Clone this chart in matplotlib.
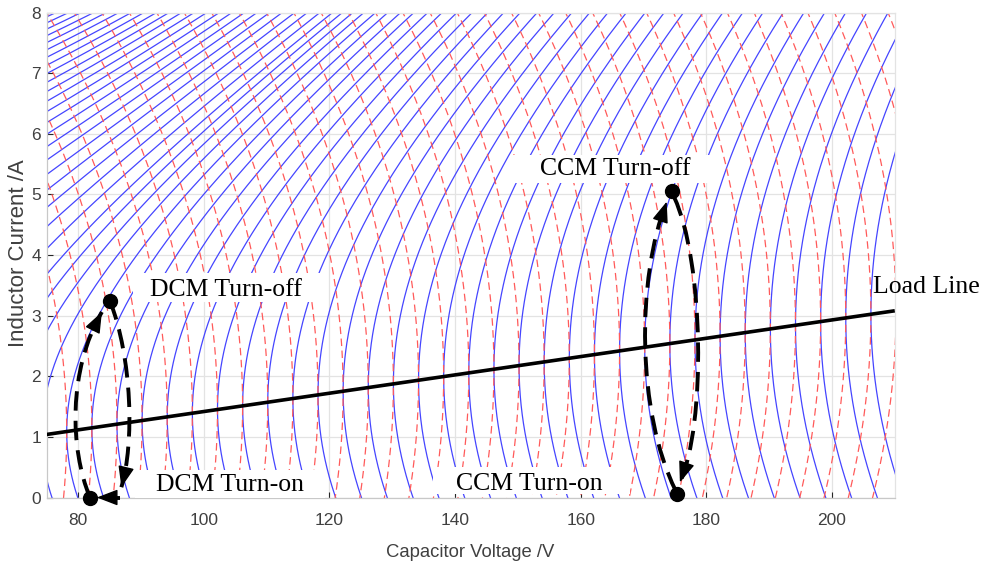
import numpy as np
import matplotlib
matplotlib.use("Agg")
import matplotlib.pyplot as plt
from matplotlib.path import Path
from matplotlib.patches import PathPatch, Rectangle

# ---- axes -------------------------------------------------------------
V_LIM = (75, 210)
I_LIM = (0, 8)
V_TICKS = [80, 100, 120, 140, 160, 180, 200]
I_TICKS = [0, 1, 2, 3, 4, 5, 6, 7, 8]

# ---- load line (end points) -----------------------------------------
LOAD_V = [75.0, 210.0]
LOAD_I = [1.04, 3.08]

# ---- state-plane model ------------------------------------------------
# both states share  C dv/dt = i - i_load(v)
# switch on : L di/dt =  (v - ON_CENTER_V)   -> slope dv/di =  ON_GAIN (i - i_load) / (v - ON_CENTER_V)
# switch off: L di/dt = -(v - OFF_CENTER_V)  -> slope dv/di = -OFF_GAIN (i - i_load) / (v - OFF_CENTER_V)
ON_CENTER_V = 0.0
ON_GAIN = 230.0
OFF_CENTER_V = -2000.0
OFF_GAIN = 1750.0

# trajectories touch the load line every 4 V
BLUE_SEED_FIRST = 62.2
RED_SEED_FIRST = 78.2
SEED_LAST = 230.0
SEED_STEP = 4.0
# on-state trajectories leaving through the top edge left of the first one above (every 2 V)
TOP_SEED_STEP = 2.0

# ---- operating points & hand-drawn loops -------------------------------
DCM_ON = (81.9, 0.0)
DCM_OFF = (85.1, 3.24)
CCM_ON = (175.3, 0.06)
CCM_OFF = (174.6, 5.05)

DCM_RISE = [(81.9, 0.0), (78.7, 0.8), (78.4, 2.1), (83.8, 3.06)]
DCM_FALL = [(85.1, 3.24), (88.6, 2.3), (89.0, 0.9), (86.9, 0.17)]
DCM_RESET = [(86.7, 0.0), (83.0, 0.0)]
CCM_RISE = [(175.1, 0.12), (169.0, 1.4), (168.8, 3.6), (173.7, 4.88)]
CCM_FALL = [(174.9, 4.95), (179.6, 3.9), (180.0, 1.2), (175.8, 0.25)]

LABELS = [  # text, v, i, box (v0, v1, i0, i1)
    ("DCM Turn-off", 103.6, 3.43, (88.75, 119.0, 3.22, 3.70)),
    ("DCM Turn-on", 104.2, 0.20, (89.07, 119.3, 0.0, 0.453)),
    ("CCM Turn-off", 165.5, 5.42, (149.2, 181.35, 5.19, 5.65)),
    ("CCM Turn-on", 151.8, 0.23, (136.5, 167.85, 0.058, 0.503)),
]
LOAD_LABEL = ("Load Line", 206.5, 3.48)

A_TO_V = 9.65  # on-screen length of 1 A expressed in V, keeps the RK steps even


def load_current(v):
    slope = (LOAD_I[1] - LOAD_I[0]) / (LOAD_V[1] - LOAD_V[0])
    return LOAD_I[0] + slope * (v - LOAD_V[0])


def field(v, i, center, gain, sign):
    dv = i - load_current(v)
    di = sign * (v - center) / gain
    norm = np.maximum(np.sqrt(dv ** 2 + (A_TO_V * di) ** 2), 1e-12)
    return dv / norm, di / norm


def trace(v0, i0, center, gain, sign, h=0.25, steps=1100, box=(60.0, 225.0, -1.0, 9.0)):
    halves = []
    with np.errstate(invalid="ignore"):
        for d in (1.0, -1.0):
            v = np.array(v0, float)
            i = np.array(i0, float)
            vs, cs = [v], [i]
            for _ in range(steps):
                a_v, a_i = field(v, i, center, gain, sign)
                b_v, b_i = field(v + 0.5 * d * h * a_v, i + 0.5 * d * h * a_i, center, gain, sign)
                c_v, c_i = field(v + 0.5 * d * h * b_v, i + 0.5 * d * h * b_i, center, gain, sign)
                e_v, e_i = field(v + d * h * c_v, i + d * h * c_i, center, gain, sign)
                v = v + d * h * (a_v + 2 * b_v + 2 * c_v + e_v) / 6
                i = i + d * h * (a_i + 2 * b_i + 2 * c_i + e_i) / 6
                out = (v < box[0]) | (v > box[1]) | (i < box[2]) | (i > box[3])
                v = np.where(out, np.nan, v)
                i = np.where(out, np.nan, i)
                vs.append(v)
                cs.append(i)
            halves.append((np.array(vs), np.array(cs)))
    (fv, fi), (bv, bi) = halves
    return np.vstack([bv[::-1], fv[1:]]), np.vstack([bi[::-1], fi[1:]])


def top_crossing(vcol, icol, level):
    ok = ~np.isnan(vcol)
    vcol, icol = vcol[ok], icol[ok]
    k = np.where((icol[:-1] - level) * (icol[1:] - level) <= 0)[0]
    j = k[-1]
    t = (level - icol[j]) / (icol[j + 1] - icol[j])
    return vcol[j] + t * (vcol[j + 1] - vcol[j])


def bezier_point(pts, t):
    p = np.asarray(pts, float)
    return ((1 - t) ** 3) * p[0] + 3 * (1 - t) ** 2 * t * p[1] + 3 * (1 - t) * t ** 2 * p[2] + t ** 3 * p[3]


# ---- trajectories -----------------------------------------------------
load_seed_v = np.arange(BLUE_SEED_FIRST, SEED_LAST, SEED_STEP)
LV, LI = trace(load_seed_v, load_current(load_seed_v), ON_CENTER_V, ON_GAIN, +1.0)

# fill the upper-left corner: trajectories crossing the top edge every 2 V
v_top_first = top_crossing(LV[:, 0], LI[:, 0], I_LIM[1])
top_seed_v = np.arange(v_top_first - TOP_SEED_STEP, V_LIM[0], -TOP_SEED_STEP)
TV, TI = trace(top_seed_v, np.full(len(top_seed_v), float(I_LIM[1])), ON_CENTER_V, ON_GAIN, +1.0)

red_seed_v = np.arange(RED_SEED_FIRST, SEED_LAST, SEED_STEP)
RV, RI = trace(red_seed_v, load_current(red_seed_v), OFF_CENTER_V, OFF_GAIN, -1.0)

# ---- figure -----------------------------------------------------------
plt.rcParams["font.family"] = ["Liberation Sans", "DejaVu Sans"]
fig = plt.figure(figsize=(9.92, 5.71), dpi=100)
ax = fig.add_axes([0.04698, 0.1287, 0.8550, 0.8494])

blue = "#4545ff"
ax.plot(LV, LI, color=blue, lw=0.9, zorder=2)
ax.plot(TV, TI, color=blue, lw=0.9, zorder=2)
ax.plot(RV, RI, color="#ff5a5a", lw=0.9, linestyle=(0, (6.0, 3.6)), zorder=2)

ax.plot(LOAD_V, LOAD_I, color="black", lw=2.6, zorder=3, solid_capstyle="butt")

serif = ["Liberation Serif", "DejaVu Serif"]
for text, tv, ti, (b0, b1, c0, c1) in LABELS:
    ax.add_patch(Rectangle((b0, c0), b1 - b0, c1 - c0, facecolor="white",
                           edgecolor="none", zorder=4))
    ax.text(tv, ti, text, family=serif, fontsize=18.5,
            ha="center", va="center", color="black", zorder=7)
ax.text(LOAD_LABEL[1], LOAD_LABEL[2], LOAD_LABEL[0], family=serif,
        fontsize=18.5, ha="left", va="center", color="black", zorder=7, clip_on=False)

# dashed switching loops
codes = [Path.MOVETO, Path.CURVE4, Path.CURVE4, Path.CURVE4]
head = dict(arrowstyle="-|>,head_length=1.3,head_width=0.5", mutation_scale=10,
            color="black", lw=1.0, shrinkA=0, shrinkB=0)
for seg in (DCM_RISE, DCM_FALL, CCM_RISE, CCM_FALL):
    ax.add_patch(PathPatch(Path(seg, codes), fill=False, edgecolor="black", lw=2.8,
                           linestyle=(0, (5.0, 2.6)), capstyle="butt", zorder=5, clip_on=False))
    tail = bezier_point(seg, 0.9)
    ax.annotate("", xy=seg[3], xytext=tuple(tail), arrowprops=head,
                zorder=6, annotation_clip=False)
ax.plot([DCM_RESET[0][0], DCM_RESET[1][0] + 1.5], [DCM_RESET[0][1], DCM_RESET[1][1]],
        color="black", lw=2.8, zorder=5, clip_on=False, solid_capstyle="butt")
ax.annotate("", xy=DCM_RESET[1], xytext=(DCM_RESET[1][0] + 2.5, DCM_RESET[1][1]),
            arrowprops=head, zorder=6, annotation_clip=False)

for pt in (DCM_ON, DCM_OFF, CCM_ON, CCM_OFF):
    ax.plot(pt[0], pt[1], "o", ms=10, color="black", zorder=8, clip_on=False)

# ---- axes styling -----------------------------------------------------
ax.set_xlim(*V_LIM)
ax.set_ylim(*I_LIM)
ax.set_xticks(V_TICKS)
ax.set_yticks(I_TICKS)
ax.grid(True, color="#e3e3e3", lw=0.9)
ax.set_axisbelow(True)
ax.tick_params(direction="in", length=4, width=0.8, color="#262626",
               labelcolor="#404040", labelsize=12.5)
ax.tick_params(axis="x", pad=11)
ax.tick_params(axis="y", pad=4)
for name, sp in ax.spines.items():
    sp.set_color("#c8c8c8" if name in ("bottom", "left") else "#e3e3e3")
    sp.set_linewidth(0.9)

ax.set_xlabel("Capacitor Voltage /V", fontsize=13.3, color="#404040")
ax.xaxis.label.set_va("center")
ax.xaxis.set_label_coords(0.5, -0.1124)
ax.set_ylabel("Inductor Current /A", fontsize=16, color="#404040")
ax.yaxis.label.set_va("center")
ax.yaxis.label.set_ha("center")
ax.yaxis.set_label_coords(-0.0337, 0.504)

fig.savefig("out.png", dpi=100)
